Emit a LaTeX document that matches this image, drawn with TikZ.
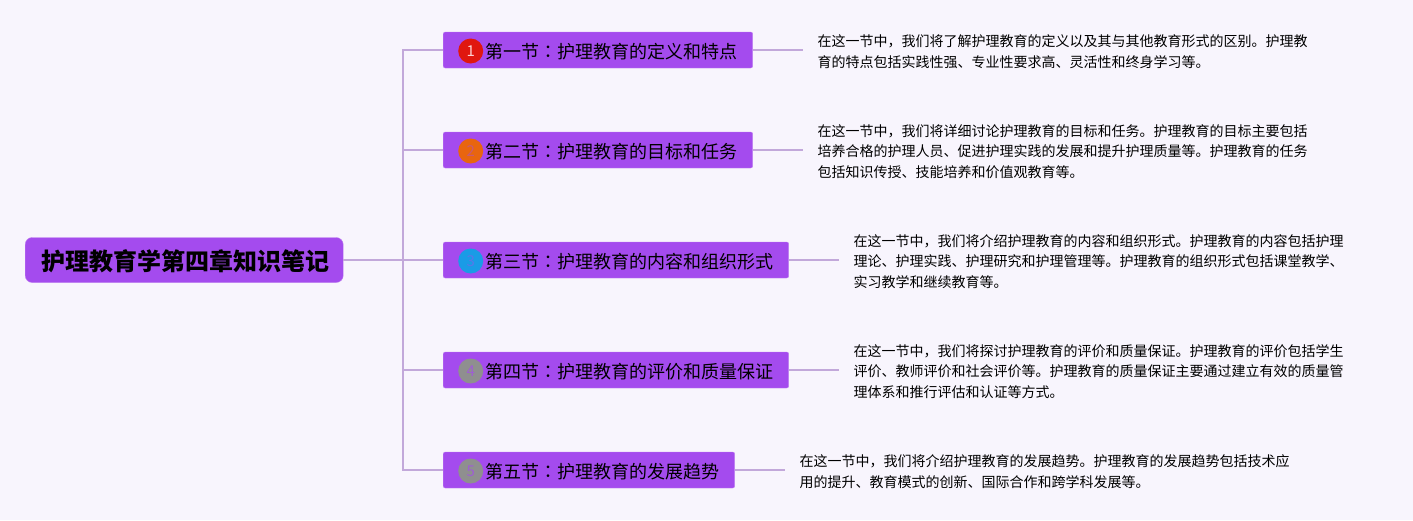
\documentclass[tikz,border=0pt]{standalone}
\usepackage{xcolor}
\usepackage{fontspec}
\setmainfont{Noto Sans CJK SC}
\newfontfamily\tcfont{Noto Sans CJK TC}
\usepackage{tikz}
\usetikzlibrary{positioning}

\definecolor{pagebg}{HTML}{F8F5FD}
\definecolor{boxfill}{HTML}{A44BEE}
\definecolor{boxedge}{HTML}{BE7DF0}
\definecolor{linkcol}{HTML}{C2A8DA}
\definecolor{badgered}{HTML}{E0170F}
\definecolor{badgeorange}{HTML}{E8650F}
\definecolor{badgeblue}{HTML}{1A9BE6}
\definecolor{badgegray}{HTML}{8F8F8F}

\tikzset{
    rootbox/.style={draw=boxedge, fill=boxfill, rounded corners=7pt, minimum height=45pt,
        inner xsep=14pt, inner ysep=0pt, text height=21pt, text depth=0.8pt,
        font=\fontsize{24}{28}\selectfont\bfseries},
    branchbox/.style={draw=boxedge, fill=boxfill, rounded corners=2pt, minimum height=36pt,
        inner xsep=15.5pt, inner ysep=0pt, text height=17pt, text depth=0.3pt,
        font=\fontsize{18}{22}\selectfont},
    badge/.style={circle, minimum size=25pt, inner sep=0pt, yshift=-1pt, font=\fontsize{15}{18}\selectfont},
    note/.style={align=left, inner sep=0pt, yshift=-1.5pt, font=\fontsize{14}{20.4}\selectfont},
    link/.style={draw=linkcol, line width=2pt},
}

\begin{document}
\begin{tikzpicture}[x=1pt, y=-1pt]
    \useasboundingbox[fill=pagebg] (0,0) rectangle (1413,520);

    \node [rootbox, anchor=west] (root) at (25,260) {\hspace*{2pt}护理教育学第四章知识笔记};
    \coordinate [right=60pt of root] (trunk);

    % the five sections
    \node [branchbox, anchor=west] (sec1) at (443,50) {\hspace*{26.5pt}第一节{\tcfont ：}护理教育的定义和特点};
    \node [branchbox, anchor=west] (sec2) at (443,150) {\hspace*{26.5pt}第二节{\tcfont ：}护理教育的目标和任务};
    \node [branchbox, anchor=west] (sec3) at (443,260) {\hspace*{26.5pt}第三节{\tcfont ：}护理教育的内容和组织形式};
    \node [branchbox, anchor=west] (sec4) at (443,370) {\hspace*{26.5pt}第四节{\tcfont ：}护理教育的评价和质量保证};
    \node [branchbox, anchor=west] (sec5) at (443,470) {\hspace*{26.5pt}第五节{\tcfont ：}护理教育的发展趋势};

    \node [badge, fill=badgered, text=pink!70!white, right=15pt of sec1.west] (num1) {1};
    \node [badge, fill=badgeorange, text=boxfill!45!badgeorange, right=15pt of sec2.west] (num2) {2};
    \node [badge, fill=badgeblue, text=boxfill!45!badgeblue, right=15pt of sec3.west] (num3) {3};
    \node [badge, fill=badgegray, text=boxfill!70!badgegray, right=15pt of sec4.west] (num4) {4};
    \node [badge, fill=badgegray, text=boxfill!70!badgegray, right=15pt of sec5.west] (num5) {5};

    % the notes
    \coordinate [right=50pt of sec1] (end1);
    \coordinate [right=50pt of sec2] (end2);
    \coordinate [right=50pt of sec3] (end3);
    \coordinate [right=50pt of sec4] (end4);
    \coordinate [right=50pt of sec5] (end5);

    \node [note, right=14.5pt of end1] (note1) {在这一节中，我们将了解护理教育的定义以及其与其他教育形式的区别。护理教\\育的特点包括实践性强、专业性要求高、灵活性和终身学习等。};
    \node [note, right=14.5pt of end2] (note2) {在这一节中，我们将详细讨论护理教育的目标和任务。护理教育的目标主要包括\\培养合格的护理人员、促进护理实践的发展和提升护理质量等。护理教育的任务\\包括知识传授、技能培养和价值观教育等。};
    \node [note, right=14.5pt of end3] (note3) {在这一节中，我们将介绍护理教育的内容和组织形式。护理教育的内容包括护理\\理论、护理实践、护理研究和护理管理等。护理教育的组织形式包括课堂教学、\\实习教学和继续教育等。};
    \node [note, right=14.5pt of end4] (note4) {在这一节中，我们将探讨护理教育的评价和质量保证。护理教育的评价包括学生\\评价、教师评价和社会评价等。护理教育的质量保证主要通过建立有效的质量管\\理体系和推行评估和认证等方式。};
    \node [note, right=14.5pt of end5] (note5) {在这一节中，我们将介绍护理教育的发展趋势。护理教育的发展趋势包括技术应\\用的提升、教育模式的创新、国际合作和跨学科发展等。};

    % connectors
    \draw [link] (root) -- (sec3);
    \draw [link] (trunk) |- (sec1);
    \draw [link] (trunk) |- (sec2);
    \draw [link] (trunk) |- (sec4);
    \draw [link] (trunk) |- (sec5);
    \draw [link] (sec1) -- (end1);
    \draw [link] (sec2) -- (end2);
    \draw [link] (sec3) -- (end3);
    \draw [link] (sec4) -- (end4);
    \draw [link] (sec5) -- (end5);
\end{tikzpicture}
\end{document}
